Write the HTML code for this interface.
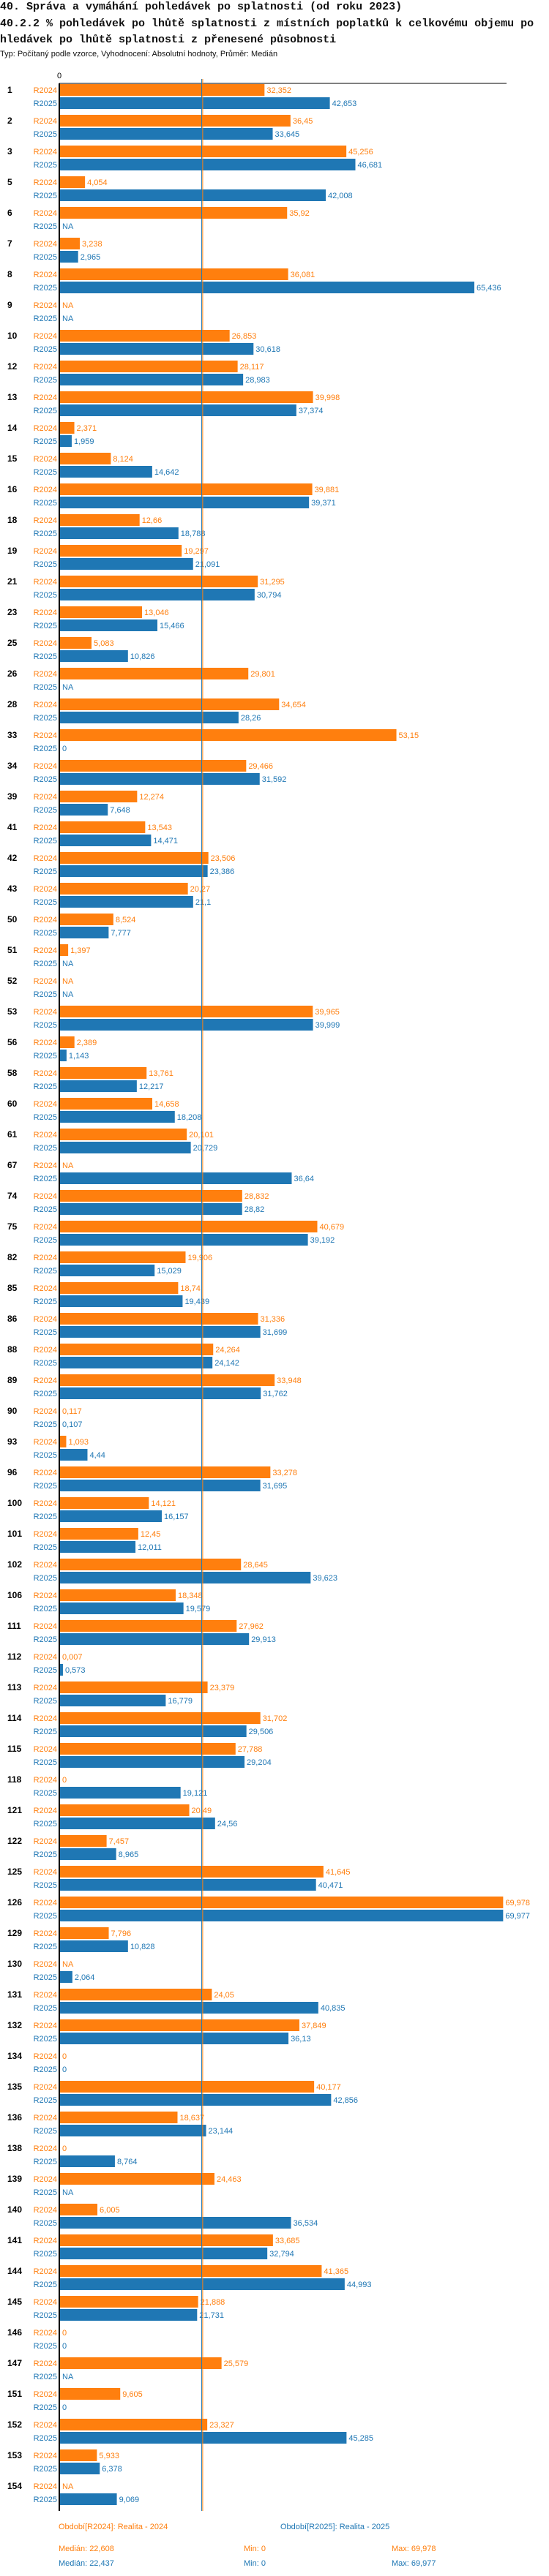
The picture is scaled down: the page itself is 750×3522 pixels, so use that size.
<!DOCTYPE html>
<html><head><meta charset="utf-8"><style>
body{margin:0;background:#fff;width:750px;height:3522px;overflow:hidden}
svg{display:block}
.t{font-family:"Liberation Mono",monospace;font-weight:bold;font-size:15px;fill:#111}
.s{font-family:"Liberation Sans",sans-serif;font-size:11px;fill:#111}
.l{font-family:"Liberation Sans",sans-serif;font-size:11px}
.g{font-family:"Liberation Sans",sans-serif;font-size:12px;font-weight:bold;fill:#000}
</style></head><body>
<svg id="chart" width="750" height="3522" xmlns="http://www.w3.org/2000/svg">
<text class="t" x="0" y="13">40. Správa a vymáhání pohledávek po splatnosti (od roku 2023)</text>
<text class="t" x="0" y="36">40.2.2 % pohledávek po lhůtě splatnosti z místních poplatků k celkovému objemu po</text>
<text class="t" x="0" y="58">hledávek po lhůtě splatnosti z přenesené působnosti</text>
<text class="s" x="0" y="77">Typ: Počítaný podle vzorce, Vyhodnocení: Absolutní hodnoty, Průměr: Medián</text>
</svg>
<script>
const categories=["1","2","3","5","6","7","8","9","10","12","13","14","15","16","18","19","21","23","25","26","28","33","34","39","41","42","43","50","51","52","53","56","58","60","61","67","74","75","82","85","86","88","89","90","93","96","100","101","102","106","111","112","113","114","115","118","121","122","125","126","129","130","131","132","134","135","136","138","139","140","141","144","145","146","147","151","152","153","154"];
const values2024=[32.352,36.45,45.256,4.054,35.92,3.238,36.081,null,26.853,28.117,39.998,2.371,8.124,39.881,12.66,19.297,31.295,13.046,5.083,29.801,34.654,53.15,29.466,12.274,13.543,23.506,20.27,8.524,1.397,null,39.965,2.389,13.761,14.658,20.101,null,28.832,40.679,19.906,18.74,31.336,24.264,33.948,0.117,1.093,33.278,14.121,12.45,28.645,18.348,27.962,0.007,23.379,31.702,27.788,0,20.49,7.457,41.645,69.978,7.796,null,24.05,37.849,0,40.177,18.637,0,24.463,6.005,33.685,41.365,21.888,0,25.579,9.605,23.327,5.933,null];
const values2025=[42.653,33.645,46.681,42.008,null,2.965,65.436,null,30.618,28.983,37.374,1.959,14.642,39.371,18.788,21.091,30.794,15.466,10.826,null,28.26,0,31.592,7.648,14.471,23.386,21.1,7.777,null,null,39.999,1.143,12.217,18.208,20.729,36.64,28.82,39.192,15.029,19.439,31.699,24.142,31.762,0.107,4.44,31.695,16.157,12.011,39.623,19.579,29.913,0.573,16.779,29.506,29.204,19.121,24.56,8.965,40.471,69.977,10.828,2.064,40.835,36.13,0,42.856,23.144,8.764,null,36.534,32.794,44.993,21.731,0,null,0,45.285,6.378,9.069];
const medians=[22.608,22.437];
const mins=[0,0];
const maxs=[69.978,69.977];
const seriesNames=["R2024","R2025"];
const legendNames=["Období[R2024]: Realita - 2024","Období[R2025]: Realita - 2025"];
const colors=["#ff7f0e","#1f77b4"];
const NS="http://www.w3.org/2000/svg";
const svg=document.getElementById('chart');
const X0=81,SCALE=8.665,TOP=115,PITCH=42,BH=16;
const xs=v=>X0+v*SCALE;
const ys=i=>TOP+i*PITCH;
const fmt=v=>String(v).replace('.',',');
function mk(tag,attrs,txt){const e=document.createElementNS(NS,tag);for(const k in attrs)e.setAttribute(k,attrs[k]);if(txt!==undefined)e.textContent=txt;svg.appendChild(e);return e;}
const bottom=3433;
let e;
e=mk('line',{x1:X0,y1:114,x2:692,y2:114,stroke:'#000','stroke-width':1});


e=mk('text',{x:X0,y:107,'text-anchor':'middle',class:'l',fill:'#000'},'0');


categories.forEach((c,i)=>{
  const y=ys(i);
  e=mk('text',{x:10,y:y+12,class:'g'},c);
  
  
  [values2024,values2025].forEach((arr,s)=>{
    const v=arr[i];const by=y+s*18;
    e=mk('text',{x:78,y:by+12,'text-anchor':'end',class:'l',fill:colors[s]},seriesNames[s]);
    
    
    if(v===null){
      e=mk('text',{x:85,y:by+12,class:'l',fill:colors[s]},'NA');
      
      
    }else{
      const w=xs(v)-X0;
      if(w>0.3){
        e=mk('rect',{x:X0,y:by,width:w,height:BH,fill:colors[s]});
        
        
      }
      e=mk('text',{x:Math.max(xs(v)+3,85),y:by+12,class:'l',fill:colors[s]},fmt(v));
      
      
    }
  });
});
medians.forEach((m,s)=>{
  e=mk('line',{x1:xs(m),y1:108,x2:xs(m),y2:bottom,stroke:colors[s],'stroke-width':1});
  
  
});
e=mk('line',{x1:X0,y1:114,x2:X0,y2:bottom,stroke:'#000','stroke-width':2});


const legX=[80,383];
legendNames.forEach((n,s)=>{
  e=mk('text',{x:legX[s],y:3458,class:'l',fill:colors[s]},n);
  
  
  const y=3488+s*20;
  e=mk('text',{x:80,y:y,class:'l',fill:colors[s]},'Medián: '+fmt(medians[s]));
  
  
  e=mk('text',{x:333,y:y,class:'l',fill:colors[s]},'Min: '+fmt(mins[s]));
  
  
  e=mk('text',{x:535,y:y,class:'l',fill:colors[s]},'Max: '+fmt(maxs[s]));
  
  
});
</script>
</body></html>
